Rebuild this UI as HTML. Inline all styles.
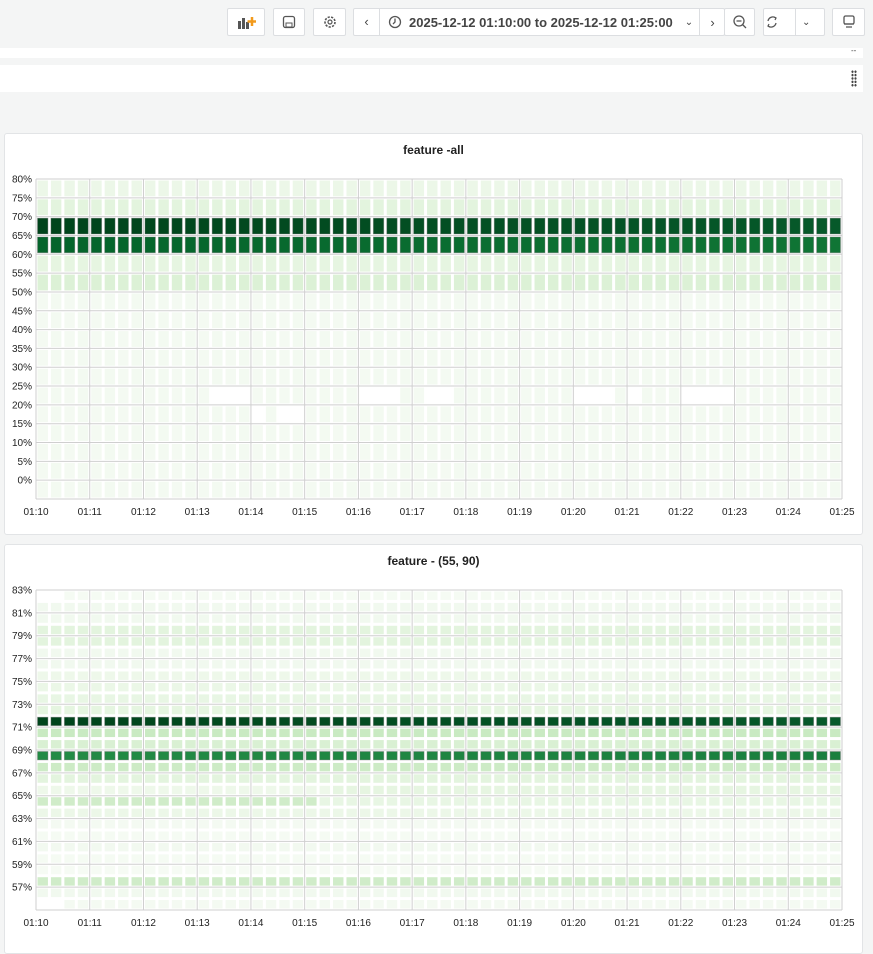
<!DOCTYPE html>
<html><head><meta charset="utf-8">
<style>
body{margin:0;width:873px;height:944px;background:#f4f5f5;font-family:"Liberation Sans",Arial,sans-serif;overflow:hidden;position:relative}
.btn{position:absolute;top:8px;height:28px;background:#fff;border:1px solid #dcdee1;border-radius:2px;box-sizing:border-box;color:#444;font-size:13px;display:flex;align-items:center;justify-content:center}
.bar{position:absolute;background:#fff}
.panel{position:absolute;left:4px;width:859px;background:#fff;border:1px solid #e2e4e6;border-radius:3px;box-sizing:border-box}
.title{position:absolute;left:0;right:0;text-align:center;font-size:12px;font-weight:bold;color:#222}
svg text{font-family:"Liberation Sans",Arial,sans-serif;font-size:10px;fill:#222}
</style></head><body>
<div class="btn" style="left:227px;width:38px"><svg width="20" height="16"><rect x="2" y="7" width="3" height="8" fill="#555"/><rect x="6" y="4" width="3" height="11" fill="#555"/><rect x="10" y="8" width="3" height="7" fill="#555"/><path d="M16 3v9M11.5 7.5h9" stroke="#f29a1c" stroke-width="2.5"/></svg></div>
<div class="btn" style="left:273px;width:32px"><svg width="14" height="14"><rect x="1.5" y="1.5" width="11" height="11" rx="2" fill="none" stroke="#555" stroke-width="1.3"/><rect x="4" y="8" width="6" height="4" fill="none" stroke="#555"/></svg></div>
<div class="btn" style="left:313px;width:33px"><svg width="14" height="14"><circle cx="7" cy="7" r="5" fill="none" stroke="#555" stroke-width="1.6" stroke-dasharray="2.2 1.3"/><circle cx="7" cy="7" r="2" fill="none" stroke="#555" stroke-width="1.2"/></svg></div>
<div class="btn" style="left:353px;width:372px;justify-content:flex-start">
<span style="width:25px;text-align:center;border-right:1px solid #dcdee1;height:26px;line-height:26px">‹</span>
<svg width="14" height="14" style="margin-left:8px"><circle cx="7" cy="7" r="5.5" fill="none" stroke="#555" stroke-width="1.3"/><path d="M7 3.5V7L5 9" stroke="#555" fill="none" stroke-width="1.3"/></svg>
<span style="margin-left:7px;font-weight:bold;color:#444">2025-12-12 01:10:00 to 2025-12-12 01:25:00</span>
<span style="margin-left:12px;font-size:10px">⌄</span>
<span style="position:absolute;left:345px;width:0;height:26px;border-left:1px solid #dcdee1"></span>
<span style="position:absolute;left:345px;width:27px;text-align:center">›</span>
</div>
<div class="btn" style="left:724px;width:31px"><svg width="16" height="16"><circle cx="7" cy="7" r="5" fill="none" stroke="#555" stroke-width="1.3"/><path d="M4.5 7h5M10.5 10.5l3.5 3.5" stroke="#555" stroke-width="1.3"/></svg></div>
<div class="btn" style="left:763px;width:62px;justify-content:flex-start"><svg width="32" height="16"><path d="M12 4a5 5 0 0 0-8 3M4 12a5 5 0 0 0 8-3" fill="none" stroke="#555" stroke-width="1.3"/><path d="M10 3l2 1-1 2M6 13l-2-1 1-2" fill="none" stroke="#555" stroke-width="1.2"/></svg><span style="position:absolute;left:31px;height:26px;border-left:1px solid #dcdee1"></span><span style="position:absolute;left:38px;font-size:10px">⌄</span></div>
<div class="btn" style="left:832px;width:33px"><svg width="14" height="16"><rect x="2" y="2" width="10" height="8" rx="1.5" fill="none" stroke="#555" stroke-width="1.3"/><path d="M2 10h10M4 13h6" stroke="#555" stroke-width="1.3"/></svg></div>
<div class="bar" style="left:0;top:48px;width:863px;height:10px"></div>
<div style="position:absolute;left:851px;top:46px;font-size:8px;color:#444">--</div>
<div class="bar" style="left:0;top:65px;width:863px;height:27px"></div>
<div style="position:absolute;left:851px;top:70px;width:6px;height:17px;background:radial-gradient(circle,#444 1px,transparent 1.3px) 0 0/3px 3.4px"></div>

<div class="panel" style="top:133px;height:402px"><div class="title" style="top:9px">feature -all</div></div>
<div class="panel" style="top:544px;height:410px"><div class="title" style="top:9px">feature - (55, 90)</div></div>
<svg id="s" width="873" height="944" style="position:absolute;left:0;top:0"></svg>
<script>
var s=document.getElementById('s'),h='';
var X0=36,X1=842,cw=(X1-X0)/60;
function hex(c){return '#'+c.map(function(v){return ('0'+Math.round(v).toString(16)).slice(-2)}).join('')}
function p(a){return [parseInt(a.substr(1,2),16),parseInt(a.substr(3,2),16),parseInt(a.substr(5,2),16)]}
function mix(a,b,t){a=p(a);b=p(b);return hex(a.map(function(v,i){return v+(b[i]-v)*t}))}
function chart(top,rows,rh,colf,labels,lstep,darkRows){
 var bot=top+rows*rh;
 for(var m=0;m<=15;m++){var x=X0+m*cw*4;h+='<line x1="'+x+'" y1="'+top+'" x2="'+x+'" y2="'+bot+'" stroke="#cfcfcf" stroke-width="1"/>';
  h+='<text x="'+x+'" y="'+(bot+16)+'" text-anchor="middle">01:'+(10+m)+'</text>';}
 h+='<line x1="'+X1+'" y1="'+top+'" x2="'+X1+'" y2="'+bot+'" stroke="#cfcfcf"/>';
 h+='<line x1="'+X0+'" y1="'+bot+'" x2="'+X1+'" y2="'+bot+'" stroke="#cfcfcf"/>';
 for(var i=0;i<labels.length;i++){var y=top+i*lstep;h+='<line x1="'+X0+'" y1="'+y+'" x2="'+X1+'" y2="'+y+'" stroke="#cfcfcf"/>';
  h+='<text x="32" y="'+(y+3.5)+'" text-anchor="end">'+labels[i]+'</text>';}
 for(var r=0;r<rows;r++)for(var c=0;c<60;c++){var col=colf(r,c);if(!col)continue;
  var dk=darkRows.indexOf(r)>=0;
  h+='<rect x="'+(X0+c*cw+1.5).toFixed(2)+'" y="'+(top+r*rh+1.5).toFixed(2)+'" width="'+(cw-3).toFixed(2)+'" height="'+(rh-3).toFixed(2)+'" fill="'+col+'"'+(dk?' stroke="rgba(120,120,120,0.5)" stroke-width="0.8"':'')+'/>';}
}
var VL='#f4faf2';
var l1=[];for(var v=80;v>=0;v-=5)l1.push(v+'%');
var W11=[13,14,15,24,25,26,29,30,40,41,42,44,48,49,50,51];
chart(179,17,320/17,function(r,c){var t=c/59;
 if(r==0)return '#ecf7e8';if(r==1)return '#e3f4de';
 if(r==2)return mix('#00441b','#06592a',t);if(r==3)return mix('#04642b','#107535',t);
 if(r==4)return '#e6f5e1';if(r==5)return '#dcf1d6';
 if(r==11&&W11.indexOf(c)>=0)return '#ffffff';
 if(r==12&&(c==16||c==18||c==19))return '#ffffff';
 return (c%2)?'#f3faf1':VL;},l1,320/17,[2,3]);
var l2=[];for(var v=83;v>=57;v-=2)l2.push(v+'%');
var R2={0:'#f5fbf3',1:'#f1f9ef',2:'#f1f9ef',3:'#e3f4de',4:'#e3f4de',5:'#f1f9ef',6:'#f1f9ef',7:'#eef8ea',8:'#ebf7e7',9:'#e8f6e4',10:'#e5f5e0',11:'#00441b',12:'#c9eac2',13:'#d9f0d3',14:'#238b45',15:'#cdebc6',16:'#e3f4de',17:'#eef8ea',18:'#d0ecc9',19:'#ecf7e8',20:'#f4faf2',21:'#f5fbf3',22:'#f2f9f0',23:'#f5fbf3',24:'#f6fbf4',25:'#d0ecc9',26:'#f1f9ef',27:'#f4faf2'};
chart(590,28,320/28,function(r,c){
 if(r==0&&c<2)return '#ffffff';if(r==27&&c<2)return '#ffffff';
 if(r==11)return mix('#00441b','#06592a',c/59);
 if(r==14)return mix('#238b45','#1a7f3e',c/59);
 if(r==18&&c>=21)return '#e8f6e4';
 if(r==17&&c>=22)return '#e6f5e1';
 return R2[r];},l2,640/28,[11,14]);
s.innerHTML=h;
</script>
</body></html>
